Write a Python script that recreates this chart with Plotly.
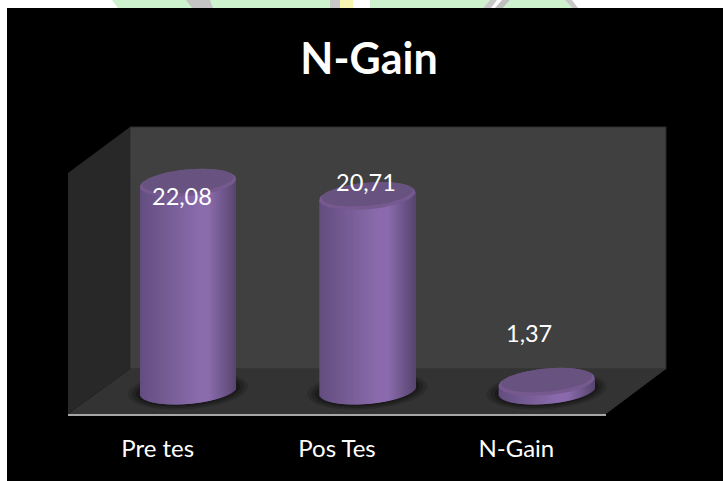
import math
import plotly.graph_objects as go

categories = ["Pre tes", "Pos Tes", "N-Gain"]
values = [22.08, 20.71, 1.37]
chart_title = "N-Gain"

W, H = 723, 481
L, R, T, B = 68, 606, 127, 414          # front plot box in pixels
PX_PER_X = (R - L) / 3
PX_PER_Y = 9.61
Y_MIN = -(B - 395) / PX_PER_Y
Y_MAX = (395 - T) / PX_PER_Y

BAR_SHIFT = 30.3 / PX_PER_X
HALF_W = 48 / PX_PER_X
BOTTOM = (395 - 390.5) / PX_PER_Y
BODY_B = 13.4 / PX_PER_Y
SHEAR = 4.0 / PX_PER_Y
N_STRIPS = 96

LABEL_SHIFTS = [-13, 14, 49]            # pixels, relative to top of the value
LABEL_X = [-6, -1, -18]


def px(x):
    return (x - L) / (R - L)


def py(y):
    return (B - y) / (B - T)


def poly(points, color, line=None):
    d = "M" + " L".join(f"{px(a):.5f},{py(b):.5f}" for a, b in points) + " Z"
    return dict(type="path", xref="paper", yref="paper", path=d, fillcolor=color,
                line=dict(width=1 if line else 0, color=line or color), layer="below")


def mix(a, b, t):
    return tuple(a[i] + (b[i] - a[i]) * t for i in range(3))


def body_color(u):
    dark_l, mid_l, light, edge = (100, 78, 128), (122, 96, 154), (138, 107, 172), (88, 70, 112)
    if u < 0.35:
        c = mix(dark_l, mid_l, u / 0.35)
    elif u < 0.6:
        c = mix(mid_l, light, (u - 0.35) / 0.25)
    elif u < 0.72:
        c = light
    else:
        c = mix(light, edge, (u - 0.72) / 0.28)
    return "rgb(%d,%d,%d)" % c


def ellipse(cx, cy, a, b, shear, n=72):
    xs, ys = [], []
    for k in range(n + 1):
        t = 2 * math.pi * k / n
        u = math.cos(t)
        xs.append(cx + a * u)
        ys.append(cy + b * math.sin(t) + shear * u)
    return xs, ys


shapes = [
    # page strips around the black picture
    dict(type="rect", xref="paper", yref="paper", x0=px(0), x1=px(W), y0=py(0), y1=py(8),
         fillcolor="white", line_width=0, layer="below"),
    dict(type="rect", xref="paper", yref="paper", x0=px(0), x1=px(7), y0=py(0), y1=py(H),
         fillcolor="white", line_width=0, layer="below"),
    poly([(118, 8), (112, 0), (340, 0), (340, 8)], "#cdf2cd"),
    poly([(370, 8), (370, 0), (490, 0), (483, 8)], "#cdf2cd"),
    poly([(503, 8), (510, 0), (565, 0), (572, 8)], "#cdf2cd"),
    poly([(192, 8), (186, 0), (210, 0), (213, 8)], "#c4c4c4"),
    poly([(330, 8), (330, 0), (340, 0), (340, 8)], "#c8c8c8"),
    poly([(340, 8), (340, 0), (353, 0), (353, 8)], "#f8f6b0"),
    poly([(483, 8), (490, 0), (497, 0), (491, 8)], "#c8c8c8"),
    poly([(495, 8), (502, 0), (510, 0), (503, 8)], "#c0c0c0"),
    poly([(572, 8), (565, 0), (572, 0), (578, 8)], "#c8c8c8"),
    # the 3D box
    poly([(130, 127), (666, 127), (666, 369), (130, 369)], "#404040", "#2c2c2c"),
    poly([(68, 173), (130, 127), (130, 369), (68, 414)], "#282828"),
    poly([(68, 414), (130, 369), (666, 369), (606, 414)], "#333333"),
]

# soft floor shadows under each cylinder, placed in data coordinates
for i, v in enumerate(values):
    cx = i + BAR_SHIFT
    for grow, alpha in ((12, 0.2), (8, 0.3), (4, 0.45)):
        xs, ys = ellipse(cx, BOTTOM, HALF_W + grow / PX_PER_X, BODY_B + grow * 0.45 / PX_PER_Y, SHEAR)
        d = "M" + " L".join(f"{a:.4f},{b:.4f}" for a, b in zip(xs, ys)) + " Z"
        shapes.append(dict(type="path", xref="x", yref="y", path=d, line_width=0,
                           fillcolor=f"rgba(15,15,15,{alpha})", layer="below"))

fig = go.Figure()

strip_w = 2 * HALF_W / N_STRIPS
for s in range(N_STRIPS):
    u = (s + 0.5) / N_STRIPS
    d = 2 * u - 1
    root = math.sqrt(max(0.0, 1 - d * d))
    base = [BOTTOM - BODY_B * root + SHEAR * d for _ in values]
    tops = [v + SHEAR * d for v in values]
    fig.add_trace(go.Bar(
        x=list(range(len(values))), y=[t - b for t, b in zip(tops, base)], base=base,
        offset=BAR_SHIFT - HALF_W + s * strip_w,
        width=strip_w * min(2, N_STRIPS - s),
        marker=dict(color=body_color(u), line_width=0, opacity=1), hoverinfo="skip"))

# lids
for i, v in enumerate(values):
    cx = i + BAR_SHIFT
    xs, ys = ellipse(cx, v, HALF_W, BODY_B, SHEAR)
    fig.add_trace(go.Scatter(x=xs, y=ys, mode="lines", fill="toself", line_width=0,
                             fillcolor="#75598f", hoverinfo="skip"))
    xs, ys = ellipse(cx, v + 1.8 / PX_PER_Y, HALF_W * 0.95, BODY_B * 0.86, SHEAR)
    fig.add_trace(go.Scatter(x=xs, y=ys, mode="lines", fill="toself", line_width=0,
                             fillcolor="#68527f", hoverinfo="skip"))

annotations = [
    dict(x=i + BAR_SHIFT, y=v, xref="x", yref="y", xshift=LABEL_X[i], yshift=LABEL_SHIFTS[i],
         text=f"{v:.2f}".replace(".", ","), showarrow=False,
         font=dict(family="Lato", size=23.5, color="white"))
    for i, v in enumerate(values)
]

fig.update_layout(
    width=W, height=H, autosize=False, showlegend=False, barmode="overlay",
    paper_bgcolor="black", plot_bgcolor="rgba(0,0,0,0)",
    margin=dict(l=L, r=W - R, t=T, b=H - B, pad=0),
    title=dict(text=f"<b>{chart_title}</b>", x=369 / W, xanchor="center", y=1 - 58.5 / H, yanchor="middle",
               font=dict(family="Lato", size=43, color="white")),
    shapes=shapes, annotations=annotations,
    xaxis=dict(range=[-0.5, 2.5], tickmode="array", tickvals=list(range(3)), ticktext=categories,
               showgrid=False, zeroline=False, showline=True, linecolor="#a6a6a6", linewidth=2,
               ticks="outside", ticklen=12, tickcolor="rgba(0,0,0,0)", fixedrange=True,
               tickfont=dict(family="Lato", size=24, color="white")),
    yaxis=dict(range=[Y_MIN, Y_MAX], visible=False, fixedrange=True),
)

fig.write_html("out.html", config=dict(displayModeBar=False),
               post_script="document.body.style.margin='0';document.body.style.overflow='hidden';")
